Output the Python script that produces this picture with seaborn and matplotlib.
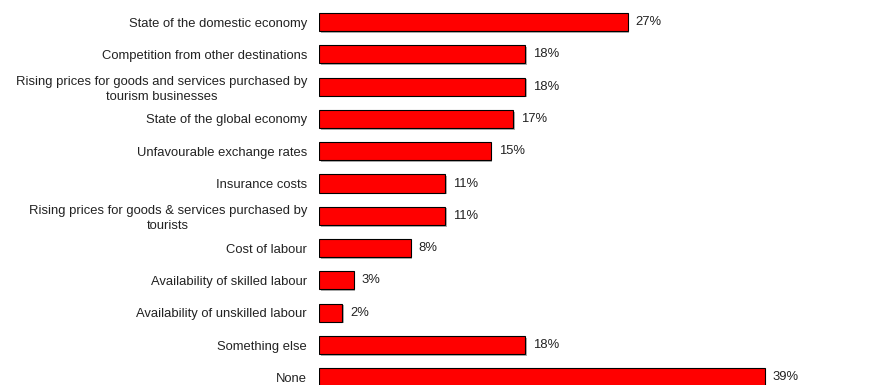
import matplotlib
matplotlib.use("Agg")
import matplotlib.pyplot as plt
import matplotlib.patheffects as pe
import seaborn as sns
import pandas as pd

categories = [
    "State of the domestic economy",
    "Competition from other destinations",
    "Rising prices for goods and services purchased by\ntourism businesses",
    "State of the global economy",
    "Unfavourable exchange rates",
    "Insurance costs",
    "Rising prices for goods & services purchased by\ntourists",
    "Cost of labour",
    "Availability of skilled labour",
    "Availability of unskilled labour",
    "Something else",
    "None",
]
values = [27, 18, 18, 17, 15, 11, 11, 8, 3, 2, 18, 39]

df = pd.DataFrame({"cat": categories, "val": values})

sns.set_theme(style="white")
plt.rcParams["font.family"] = ["Liberation Sans", "DejaVu Sans"]

W, H = 892, 385
fig = plt.figure(figsize=(W / 100, H / 100), dpi=100)
left_px = 319.3
px_per_unit = 11.42
xmax = 50
row_h = 32.3
top_px = 22.0 - row_h / 2
height_px = row_h * 12
ax = fig.add_axes([left_px / W, (H - top_px - height_px) / H,
                   xmax * px_per_unit / W, height_px / H])

sns.barplot(data=df, x="val", y="cat", orient="h", color="#ff0000",
            saturation=1, width=0.56, edgecolor="black", linewidth=0.8, ax=ax)
for p in ax.patches:
    p.set_path_effects([pe.SimplePatchShadow(offset=(1.2, -1.2), shadow_rgbFace="#9a9a9a", alpha=0.8),
                        pe.Normal()])

ax.set_xlim(0, xmax)
ax.set_ylim(11.5, -0.5)
for i, v in enumerate(values):
    ax.text(v + 0.7, i, f"{v}%", va="center", ha="left", fontsize=9.4, color="#222222")

ax.set_yticks(range(len(categories)))
ax.set_yticklabels(categories, fontsize=9.4, color="#222222", multialignment="center",
                   linespacing=1.3)
ax.tick_params(axis="y", length=0, pad=8.8)
ax.set_xticks([])
ax.set_xlabel("")
ax.set_ylabel("")
for s in ax.spines.values():
    s.set_visible(False)

fig.savefig("out.png", dpi=100)
